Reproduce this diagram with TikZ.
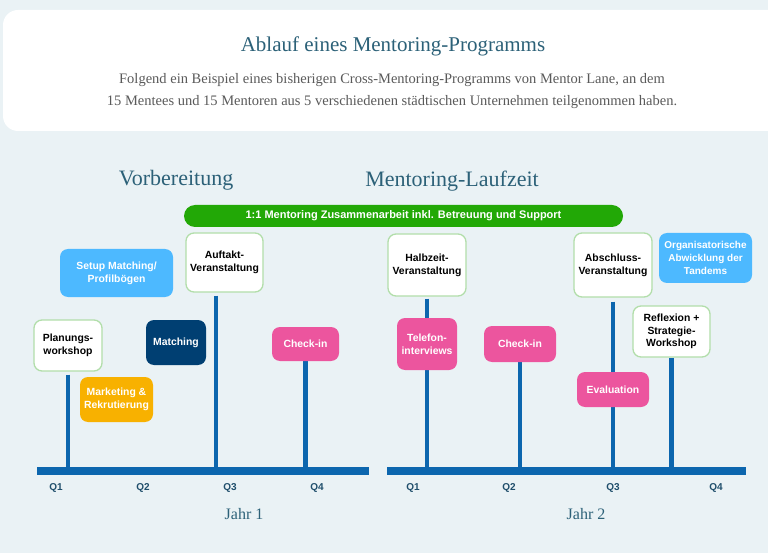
\documentclass[tikz,border=0pt]{standalone}
\usepackage{fontspec}
\setmainfont{Liberation Serif}
\setsansfont{Liberation Sans}
\usetikzlibrary{backgrounds,calc}
\definecolor{bgc}{HTML}{EAF2F5}
\definecolor{headc}{HTML}{2C6178}
\definecolor{subc}{HTML}{5A5A5A}
\definecolor{barc}{HTML}{0C66AE}
\definecolor{greenc}{HTML}{22A806}
\definecolor{lbluec}{HTML}{4DB9FF}
\definecolor{navyc}{HTML}{003F72}
\definecolor{pinkc}{HTML}{EC559E}
\definecolor{orangec}{HTML}{F8B100}
\definecolor{bordc}{HTML}{B2DEAA}
\definecolor{qc}{HTML}{1F4E6B}
\tikzset{
  evbox/.style={rounded corners=8pt, inner sep=0pt, align=center,
    font=\sffamily\bfseries\fontsize{10.4}{12.7}\selectfont},
  whitebox/.style={evbox, fill=white, draw=bordc, line width=1.3pt, text=black},
  colbox/.style={evbox, fill=#1, text=white},
  stem/.style={draw=barc, line width=4.5pt},
  axis/.style={draw=barc, line width=7.5pt},
  qlab/.style={font=\sffamily\bfseries\fontsize{10}{11}\selectfont, text=qc},
  yearlab/.style={font=\fontsize{16}{18}\selectfont, text=headc},
  phase/.style={font=\fontsize{22}{24}\selectfont, text=headc}
}
\begin{document}
\begin{tikzpicture}[x=1pt,y=-1pt]
\useasboundingbox (0,0) rectangle (768,553);
\clip (0,0) rectangle (768,553);
% header texts
\node[font=\fontsize{21}{24}\selectfont, text=headc] (title) at (393,46) {Ablauf eines Mentoring-Programms};
\node[font=\fontsize{14.5}{22}\selectfont, text=subc, align=center] (sub) at (392,91)
  {Folgend ein Beispiel eines bisherigen Cross-Mentoring-Programms von Mentor Lane, an dem\\
   15 Mentees und 15 Mentoren aus 5 verschiedenen städtischen Unternehmen teilgenommen haben.};
% phases
\node[phase] (vorb) at (176,180) {Vorbereitung};
\node[phase] (lauf) at (452,181) {Mentoring-Laufzeit};
% green bar
\node[fill=greenc, rounded corners=11pt, minimum width=439pt, minimum height=22pt, inner sep=0pt,
  text=white, font=\sffamily\bfseries\fontsize{11}{12}\selectfont] (bar) at (403.5,216)
  {1:1 Mentoring Zusammenarbeit inkl. Betreuung und Support};
% axes
\coordinate (a1s) at (37,471);
\coordinate (a1e) at (369,471);
\coordinate (a2s) at (387,471);
\coordinate (a2e) at (746,471);
% boxes
\node[colbox=lbluec, minimum width=113pt, minimum height=48pt] (setup) at (116.5,273) {Setup Matching/\\Profilbögen};
\node[whitebox, minimum width=77pt, minimum height=59pt] (auftakt) at (224.5,262.5) {Auftakt-\\Veranstaltung};
\node[whitebox, minimum width=68pt, minimum height=51pt] (planung) at (68,345.5) {Planungs-\\workshop};
\node[colbox=navyc, minimum width=60pt, minimum height=45pt] (matching) at (176,342.5) {Matching};
\node[colbox=pinkc, minimum width=67pt, minimum height=34pt] (check1) at (305.5,344) {Check-in};
\node[colbox=orangec, minimum width=73pt, minimum height=45pt] (marketing) at (116.5,399.5) {Marketing \&\\Rekrutierung};
\node[whitebox, minimum width=78pt, minimum height=62pt] (halbzeit) at (427,265) {Halbzeit-\\Veranstaltung};
\node[whitebox, minimum width=78pt, minimum height=64pt] (abschluss) at (613,265) {Abschluss-\\Veranstaltung};
\node[colbox=lbluec, minimum width=93pt, minimum height=50pt, font=\sffamily\bfseries\fontsize{10}{12.7}\selectfont] (orga) at (705.5,258) {Organisatorische\\Abwicklung der\\Tandems};
\node[whitebox, minimum width=77pt, minimum height=51pt] (reflexion) at (671.5,331.5) {Reflexion +\\Strategie-\\Workshop};
\node[colbox=pinkc, minimum width=60pt, minimum height=52pt] (telefon) at (427,344) {Telefon-\\interviews};
\node[colbox=pinkc, minimum width=72pt, minimum height=36pt] (check2) at (520,344) {Check-in};
\node[colbox=pinkc, minimum width=72pt, minimum height=35pt] (evaluation) at (613,389.5) {Evaluation};
% background, header card, stems and axes on background layer
\begin{scope}[on background layer]
  \fill[bgc] (0,0) rectangle (768,553);
  \fill[white, rounded corners=15pt] (3,10) rectangle (800,131);
  \draw[stem, shorten <=3pt] (planung.south) -- (planung.south |- a1s);
  \draw[stem, shorten <=3pt] ($(auftakt.south)+(-8.5,0)$) -- ($(auftakt.south |- a1s)+(-8.5,0)$);
  \draw[stem] (check1.south) -- (check1.south |- a1s);
  \draw[stem, shorten <=2pt] (halbzeit.south) -- (halbzeit.south |- a2s);
  \draw[stem] (check2.south) -- (check2.south |- a2s);
  \draw[stem, shorten <=4pt] (abschluss.south) -- (abschluss.south |- a2s);
  \draw[stem] (reflexion.south) -- (reflexion.south |- a2s);
  \draw[axis] (a1s) -- (a1e);
  \draw[axis] (a2s) -- (a2e);
\end{scope}
% quarter labels
\node[qlab] (q11) at (56,488) {Q1};
\node[qlab] (q12) at (143,488) {Q2};
\node[qlab] (q13) at (230,488) {Q3};
\node[qlab] (q14) at (317,488) {Q4};
\node[qlab] (q21) at (413,488) {Q1};
\node[qlab] (q22) at (509,488) {Q2};
\node[qlab] (q23) at (613,488) {Q3};
\node[qlab] (q24) at (716,488) {Q4};
\node[yearlab] (j1) at (244,514) {Jahr 1};
\node[yearlab] (j2) at (586,514) {Jahr 2};
\end{tikzpicture}
\end{document}
